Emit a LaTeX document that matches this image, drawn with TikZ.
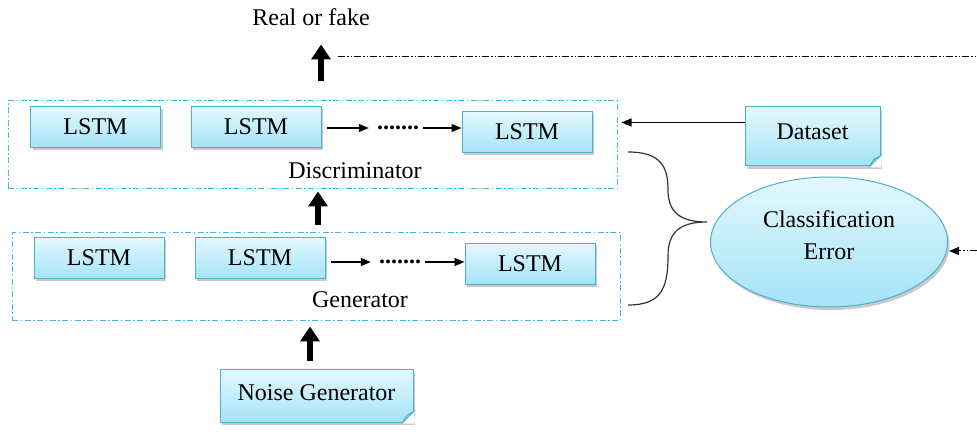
\documentclass[tikz,border=0pt]{standalone}
\usepackage{fontspec}
\setmainfont{Liberation Serif}
\usetikzlibrary{arrows.meta,shapes.geometric,shadows}
\definecolor{boxtop}{HTML}{E4F8FE}
\definecolor{boxbot}{HTML}{A4E3F7}
\definecolor{boxline}{HTML}{4FB0CC}
\definecolor{grpline}{HTML}{3DB8EC}
\newcommand\diagfont{\fontsize{24}{32}\selectfont}

\begin{document}
\begin{tikzpicture}[x=1pt,y=-1pt,font=\diagfont,
	cellbox/.style={draw=boxline, line width=1pt, top color=boxtop, bottom color=boxbot,
		minimum width=130, minimum height=41, inner sep=0,
		drop shadow={shadow xshift=2pt, shadow yshift=-3pt, opacity=0.35, fill=black!60}},
	groupbox/.style={draw=grpline, line width=1pt, dash pattern=on 6pt off 2.5pt on 1.5pt off 2.5pt},
	bigarrow/.style={line width=6.5pt, -{Triangle[length=15pt,width=19pt]}},
	flowarrow/.style={line width=1.3pt, -{Triangle[length=10pt,width=8pt]}},
	dashdotline/.style={line width=1pt, dash pattern=on 7pt off 2pt on 1.5pt off 2pt on 1.5pt off 2pt}]
		\useasboundingbox (0,0) rectangle (977,435);
		\node (rf) at (311,17) {Real or fake};
		% discriminator
		\node[groupbox, minimum width=609, minimum height=88] (disc) at (312.5,145) {};
		\node[cellbox] (d1) at (95.5,127) {LSTM};
		\node[cellbox] (d2) at (256,127) {LSTM};
		\node[inner sep=0] (ddots) at (398,128) {\textbf{.......}};
		\node[cellbox] (d3) at (527,132) {LSTM};
		\node (dlab) at (355,171) {Discriminator};
		\draw[flowarrow, shorten <=5pt, shorten >=8pt] (d2.east |- ddots) -- (ddots.west);
		\draw[flowarrow, shorten <=4pt] (ddots.east) -- (d3.west |- ddots);
		% generator
		\node[groupbox, minimum width=608, minimum height=88] (gen) at (316,277) {};
		\node[cellbox] (g1) at (99,258) {LSTM};
		\node[cellbox] (g2) at (260,258) {LSTM};
		\node[inner sep=0] (gdots) at (400,262) {\textbf{.......}};
		\node[cellbox] (g3) at (530,264) {LSTM};
		\node (glab) at (360,300) {Generator};
		\draw[flowarrow, shorten <=5pt, shorten >=8pt] (g2.east |- gdots) -- (gdots.west);
		\draw[flowarrow, shorten <=4pt] (gdots.east) -- (g3.west |- gdots);
		% inputs and error
		\node[cellbox, minimum width=193, minimum height=52, text depth=6pt] (ng) at (316.5,396) {Noise Generator};
		\node[cellbox, minimum width=135, minimum height=59, text depth=10pt] (ds) at (812.5,136.5) {Dataset};
		\node[cellbox, ellipse, minimum width=237, minimum height=130, align=center, text depth=14pt] (ce) at (829,242) {Classification\\Error};
		\foreach \n in {ng,ds} {
			\fill[white] ([xshift=-11,yshift=-1]\n.south east) -- ([xshift=1,yshift=11]\n.south east) -- ([xshift=1,yshift=-1]\n.south east) -- cycle;
			\draw[boxline, fill=boxbot!75!boxline, line width=0.8pt] ([xshift=-11]\n.south east) -- ([yshift=11]\n.south east) -- ([xshift=-7,yshift=7]\n.south east) -- cycle;
		}
		% big arrows
		\draw[bigarrow] ([xshift=8.5,yshift=19]disc.north) -- ([xshift=8.5,yshift=56]disc.north);
		\draw[bigarrow] ([xshift=2,yshift=7]gen.north) -- ([xshift=5.5,yshift=-2]disc.south);
		\draw[bigarrow] ([xshift=-6.5,yshift=8]ng.north) -- ([xshift=-6,yshift=-5]gen.south);
		\draw[flowarrow, shorten >=4pt] ([yshift=14]ds.west) -- ([yshift=14]ds.west -| disc.east);
		% dash-dot lines
		\coordinate (lineend) at (338,57);
		\coordinate (topend) at (977,57);
		\draw[dashdotline] (lineend) -- (topend);
		\coordinate (rightend) at (977,251);
		\draw[dashdotline, -{Triangle[length=10pt,width=8pt]}, shorten >=1pt] (rightend) -- (rightend -| ce.east);
		% brace
		\coordinate (bracetip) at (707,222);
		\draw[line width=1.2pt, black!80] (628,152) .. controls (662,152) and (668,168) .. (668,190)
			.. controls (668,212) and (680,222) .. (bracetip)
			.. controls (680,222) and (668,232) .. (668,256)
			.. controls (668,290) and (660,305) .. (628,305);
	\end{tikzpicture}
\end{document}
